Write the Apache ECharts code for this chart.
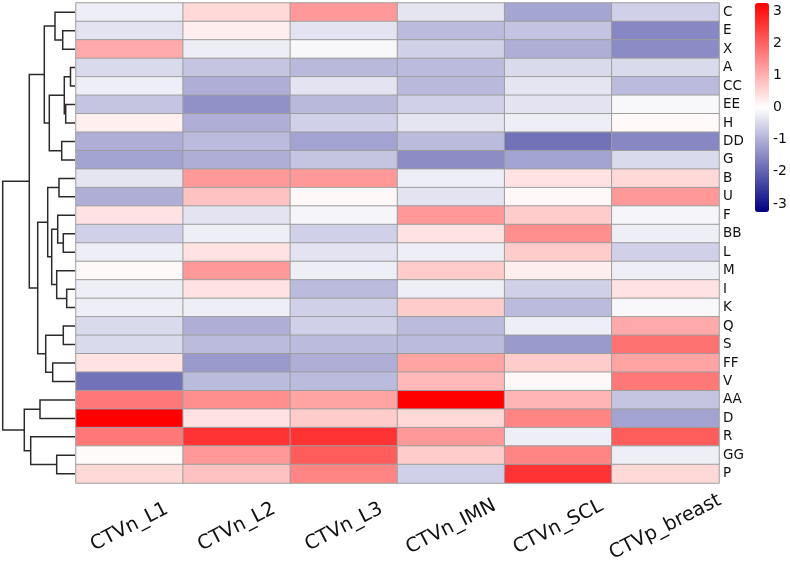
<!DOCTYPE html>
<html>
<head>
<meta charset="utf-8">
<script src="https://cdn.jsdelivr.net/npm/echarts@6/dist/echarts.min.js"></script>
<style>html,body{margin:0;padding:0;background:#fff;}#chart{width:790px;height:562px;}</style>
</head>
<body>
<div id="chart"></div>
<script>
// Row (leaf) labels, top to bottom
const rows = ['C','E','X','A','CC','EE','H','DD','G','B','U','F','BB','L','M','I','K','Q','S','FF','V','AA','D','R','GG','P'];
// Column labels
const cols = ['CTVn_L1','CTVn_L2','CTVn_L3','CTVn_IMN','CTVn_SCL','CTVp_breast'];
// Values per column (row order as above)
const vL1    = [-0.22,-0.36,1.08,-0.47,-0.22,-0.74,0.2,-1.03,-1.17,-0.33,-1.03,0.36,-0.6,-0.22,0.09,-0.22,-0.22,-0.47,-0.47,0.36,-1.8,1.72,3.25,1.72,0.06,0.5];
const vL2    = [0.5,0.22,-0.23,-0.74,-1.03,-1.4,-1.03,-0.87,-1.03,1.3,0.78,-0.36,-0.22,0.36,1.3,0.36,-0.22,-1.03,-0.87,-1.3,-0.87,1.43,0.36,2.6,1.3,0.78];
const vL3    = [1.3,-0.36,-0.09,-0.89,-0.36,-0.89,-0.6,-1.17,-0.74,1.3,0.09,-0.12,-0.6,-0.36,-0.22,-0.87,-0.6,-0.6,-0.87,-1.03,-0.87,1.17,0.65,2.6,2.08,1.55];
const vIMN   = [-0.33,-0.87,-0.6,-0.87,-0.89,-0.6,-0.33,-0.87,-1.45,-0.22,-0.36,1.3,0.36,-0.22,0.65,-0.22,0.65,-0.87,-0.87,1.17,0.89,3.25,0.5,1.3,0.65,-0.6];
const vSCL   = [-1.15,-0.75,-1.03,-0.47,-0.33,-0.36,-0.22,-1.8,-1.17,0.36,0.09,0.65,1.43,0.65,0.22,-0.6,-0.87,-0.22,-1.3,0.65,0.09,0.94,1.55,-0.22,1.55,2.6];
const vBreast= [-0.6,-1.53,-1.48,-0.47,-0.87,-0.09,0.08,-1.53,-0.47,0.5,1.3,-0.12,-0.22,-0.6,-0.22,0.36,-0.09,1.08,1.8,1.17,1.72,-0.74,-1.17,2.08,-0.22,0.5];
// Colour legend ticks
const legendTicks = [-3,-2,-1,0,1,2,3];
// Row dendrogram merges: [left, right, height]; strings = leaves, numbers = earlier merge index
const merges = [
  ['E','X',12.3],
  ['C',0,20],
  ['A','CC',4.5],
  ['EE','H',9.3],
  [2,3,10.7],
  ['DD','G',13.3],
  [4,5,25.7],
  [1,6,30.7],
  ['B','U',16],
  ['BB','L',11.7],
  ['F',9,17.3],
  ['I','K',8.3],
  ['M',11,18.3],
  [10,12,23.3],
  [8,13,27.3],
  ['Q','S',11.7],
  ['FF','V',22.3],
  [15,16,29.3],
  [14,17,37.3],
  [7,18,45.7],
  ['AA','D',35],
  ['GG','P',18.3],
  ['R',21,44.3],
  [20,22,50.7],
  [19,23,72.3]
];

const colValues = [vL1, vL2, vL3, vIMN, vSCL, vBreast];
const heatData = [];
colValues.forEach((arr, ci) => arr.forEach((v, ri) => heatData.push([ci, ri, v])));

const nodes = [];
function info(ref) {
  if (typeof ref === 'string') return { y: rows.indexOf(ref), h: 0 };
  return nodes[ref];
}
const dendroData = merges.map((m, i) => {
  const a = info(m[0]), b = info(m[1]);
  nodes[i] = { y: (a.y + b.y) / 2, h: m[2] };
  return [a.h, a.y, m[2], b.y, b.h];
});

const FONT = 'DejaVu Sans';
const chart = echarts.init(document.getElementById('chart'));
chart.setOption({
  animation: false,
  backgroundColor: '#fff',
  grid: [
    { left: 76, top: 3, width: 643, height: 480, outerBoundsMode: 'none', containLabel: false },
    { left: 0, top: 3, width: 75, height: 480, outerBoundsMode: 'none', containLabel: false },
    { left: 755, top: 3, width: 14, height: 209, outerBoundsMode: 'none', containLabel: false }
  ],
  xAxis: [
    { type: 'category', gridIndex: 0, data: cols, position: 'bottom',
      axisLine: { show: false }, axisTick: { show: false }, splitLine: { show: false },
      axisLabel: { rotate: 27, align: 'center', verticalAlign: 'middle', margin: 44,
        fontSize: 19.5, fontFamily: FONT, color: '#111' } },
    { type: 'value', gridIndex: 1, min: 0, max: 75, inverse: true, show: false },
    { type: 'value', gridIndex: 2, show: false }
  ],
  yAxis: [
    { type: 'category', gridIndex: 0, data: rows, inverse: true, position: 'right',
      axisLine: { show: false }, axisTick: { show: false }, splitLine: { show: false },
      axisLabel: { margin: 4, align: 'left', fontSize: 13.5, fontFamily: FONT, color: '#111' } },
    { type: 'value', gridIndex: 1, min: -0.5, max: rows.length - 0.5, inverse: true, show: false },
    { type: 'value', gridIndex: 2, min: -3.25, max: 3.25, position: 'right',
      axisLine: { show: false }, axisTick: { show: false }, splitLine: { show: false },
      axisLabel: { customValues: legendTicks, margin: 4, fontSize: 14, fontFamily: FONT, color: '#111' } }
  ],
  visualMap: {
    type: 'continuous', seriesIndex: 0, min: -3.25, max: 3.25,
    calculable: false, hoverLink: false, left: 755, top: 3, padding: 0,
    itemWidth: 14, itemHeight: 209,
    inRange: { color: ['#000080', '#ffffff', '#ff0000'] }
  },
  series: [
    { type: 'heatmap', xAxisIndex: 0, yAxisIndex: 0, data: heatData,
      itemStyle: { borderColor: '#9e9e9e', borderWidth: 1 },
      emphasis: { disabled: true } },
    { type: 'custom', xAxisIndex: 1, yAxisIndex: 1, data: dendroData,
      encode: { x: [0, 2, 4], y: [1, 3] }, silent: true,
      renderItem: function (params, api) {
        const p1 = api.coord([api.value(0), api.value(1)]);
        const p2 = api.coord([api.value(2), api.value(1)]);
        const p3 = api.coord([api.value(2), api.value(3)]);
        const p4 = api.coord([api.value(4), api.value(3)]);
        return { type: 'polyline', shape: { points: [p1, p2, p3, p4] },
          style: { stroke: '#2b2b2b', lineWidth: 1.5, fill: null } };
      } }
  ]
});
</script>
</body>
</html>
